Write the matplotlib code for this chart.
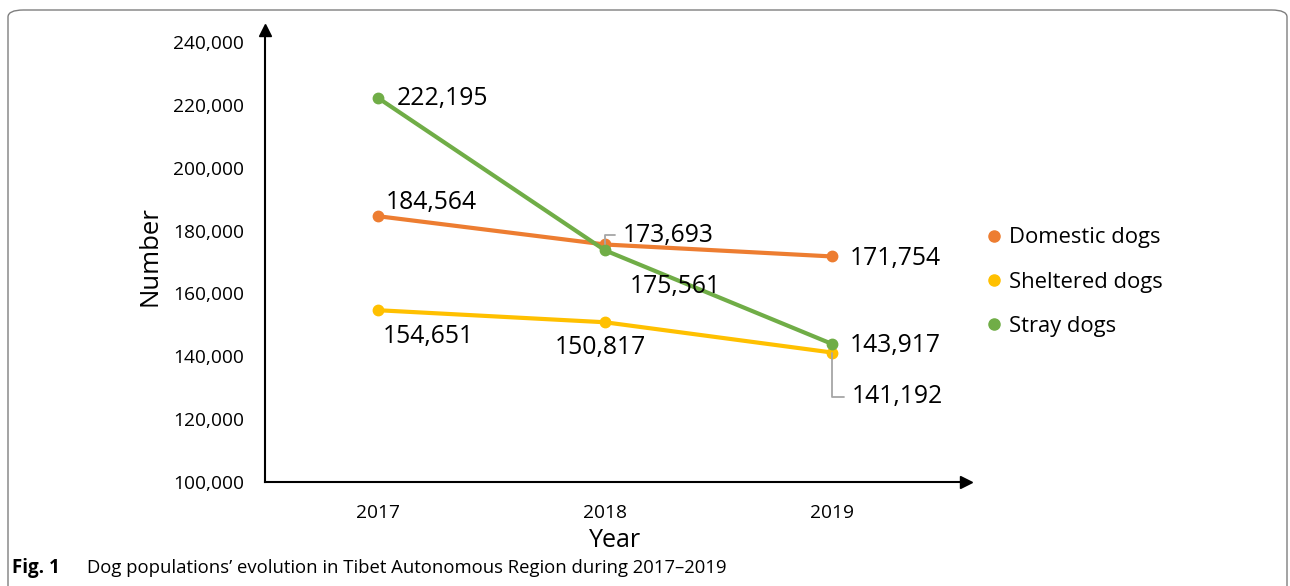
import matplotlib
matplotlib.use("Agg")
import matplotlib.pyplot as plt
from matplotlib.lines import Line2D
from matplotlib.patches import FancyBboxPatch

years = ["2017", "2018", "2019"]
domestic = [184564, 175561, 171754]
sheltered = [154651, 150817, 141192]
stray = [222195, 173693, 143917]
series_names = ["Domestic dogs", "Sheltered dogs", "Stray dogs"]
yticks = [100000, 120000, 140000, 160000, 180000, 200000, 220000, 240000]

c_dom = "#ED7D31"
c_she = "#FFC000"
c_str = "#70AD47"

plt.rcParams['font.family'] = ['Open Sans', 'DejaVu Sans']

W, H = 1290, 586
fig = plt.figure(figsize=(W / 100, H / 100), dpi=100)
ax = fig.add_axes([265 / W, 1 - 482 / H, (966 - 265) / W, (482 - 30) / H])

x = list(range(len(years)))
lw = 3.0
ms = 7.5
ax.plot(x, domestic, color=c_dom, lw=lw, marker='o', ms=ms, zorder=3)
ax.plot(x, sheltered, color=c_she, lw=lw, marker='o', ms=ms, zorder=3)
ax.plot(x, stray, color=c_str, lw=lw, marker='o', ms=ms, zorder=4)

ax.set_xlim(-0.498, 2.59)
ax.set_ylim(100000, 243800)
ax.set_xticks(x)
ax.set_xticklabels(years, fontsize=13.8)
ax.set_yticks(yticks)
ax.set_yticklabels([f"{v:,}" for v in yticks], fontsize=13.8)
ax.tick_params(axis='x', length=0, pad=16)
ax.tick_params(axis='y', length=0, pad=15)
for s in ['top', 'right']:
    ax.spines[s].set_visible(False)
for s in ['left', 'bottom']:
    ax.spines[s].set_linewidth(1.5)
    ax.spines[s].set_color('black')
# arrow heads
ax.plot(1, 0, ">", color='black', ms=8, transform=ax.transAxes, clip_on=False)
ax.plot(0, 1, "^", color='black', ms=8, transform=ax.transAxes, clip_on=False)

ax.set_ylabel("Number", fontsize=18.5, labelpad=8)
ax.set_xlabel("Year", fontsize=18, labelpad=4)

lab_fs = 17.8
def lab(xi, yv, text, dx, dy, leader=None):
    kw = dict(textcoords='offset pixels', fontsize=lab_fs, ha='left', va='center', zorder=5)
    if leader is not None:
        kw['arrowprops'] = dict(arrowstyle='-', color='#A6A6A6', lw=1.3,
                                connectionstyle=leader, relpos=(0, 0.5),
                                shrinkA=4, shrinkB=0)
    ax.annotate(text, xy=(xi, yv), xytext=(dx, dy), **kw)

lab(0, stray[0], f"{stray[0]:,}", 19, -1)
lab(0, domestic[0], f"{domestic[0]:,}", 8, 14)
lab(0, sheltered[0], f"{sheltered[0]:,}", 5, -26)
lab(1, sheltered[1], f"{sheltered[1]:,}", -50, -25)
lab(1, domestic[1], f"{stray[1]:,}", 18, 9, leader='angle,angleA=0,angleB=90')
lab(1, domestic[1], f"{domestic[1]:,}", 25, -42)
lab(2, domestic[2], f"{domestic[2]:,}", 18, -2)
lab(2, stray[2], f"{stray[2]:,}", 18, -2)
lab(2, sheltered[2], f"{sheltered[2]:,}", 20, -44, leader='angle,angleA=0,angleB=90')

handles = [Line2D([], [], color=c, marker='o', ls='none', ms=8)
           for c in (c_dom, c_she, c_str)]
fig.legend(handles, series_names, loc='center left', frameon=False,
           bbox_to_anchor=(961 / W, 1 - 282 / H), fontsize=15.8,
           handletextpad=0.1, labelspacing=1.05, handlelength=1.2)

# caption
fig.text(12 / W, 1 - 568 / H, "Fig. 1", fontsize=13.5, fontweight='bold', va='center')
fig.text(87 / W, 1 - 568 / H,
         "Dog populations\u2019 evolution in Tibet Autonomous Region during 2017\u20132019",
         fontsize=13.3, va='center')

frame = FancyBboxPatch((8 / W, -0.2), (1287 - 8) / W, 1 - 10 / H + 0.2,
                       boxstyle="round,pad=0,rounding_size=0.012",
                       transform=fig.transFigure, fill=False,
                       edgecolor='#7F7F7F', lw=1.0)
fig.patches.append(frame)

fig.savefig("out.png", dpi=100)
